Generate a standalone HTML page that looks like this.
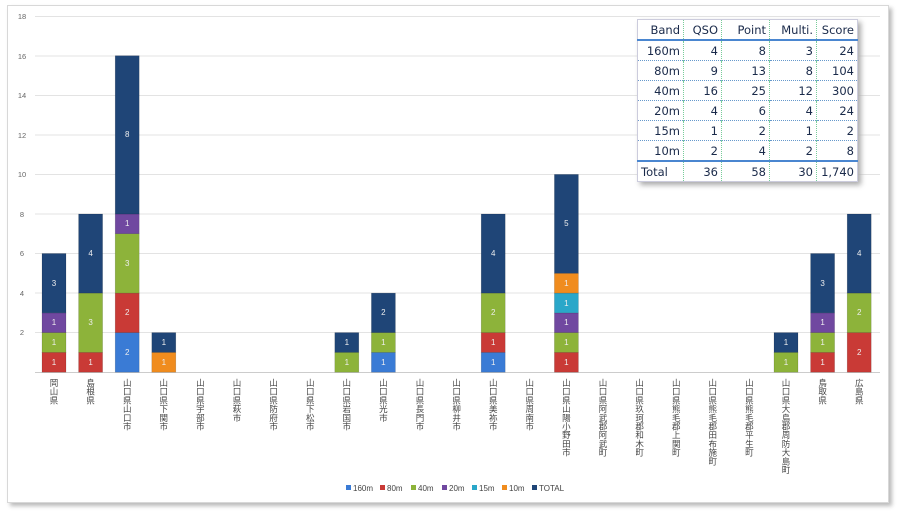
<!DOCTYPE html>
<html><head><meta charset="utf-8"><style>
body{margin:0;width:900px;height:514px;background:#fff;position:relative;overflow:hidden;font-family:"Liberation Sans","Noto Sans CJK JP",sans-serif}
.frame{position:absolute;left:7px;top:5px;width:880px;height:496px;border:1px solid #d8d8d8;box-shadow:3px 3px 4px #bbb;background:#fff}
table{position:absolute;left:637px;top:19px;width:220px;table-layout:fixed;border-collapse:collapse;background:#fff;box-shadow:3px 3px 5px #aaa;font-family:"DejaVu Sans",sans-serif;font-size:11.5px;color:#1a2a4a;border:1px solid #ccd}
td{height:19px;padding:0 3px;text-align:right;border-left:1px dotted #7c9;border-top:1px dotted #69c;overflow:hidden;white-space:nowrap}
td:first-child{border-left:none}
tr.h td{border-top:none;border-bottom:2px solid #4a86d0}
tr.t td{border-top:2px solid #4a86d0;text-align:right}
</style></head><body>
<div class="frame"></div>
<svg style="position:absolute;left:0;top:0" width="900" height="514">
<g stroke="#e3e3e3" stroke-width="1">
<line x1="35" x2="880" y1="16.5" y2="16.5"/><line x1="35" x2="880" y1="56" y2="56"/><line x1="35" x2="880" y1="95.5" y2="95.5"/><line x1="35" x2="880" y1="135" y2="135"/><line x1="35" x2="880" y1="174.5" y2="174.5"/><line x1="35" x2="880" y1="214" y2="214"/><line x1="35" x2="880" y1="253.5" y2="253.5"/><line x1="35" x2="880" y1="293" y2="293"/><line x1="35" x2="880" y1="332.5" y2="332.5"/><line x1="35" x2="880" y1="372.5" y2="372.5" stroke="#ccc"/>
</g>
<g font-size="7.5" fill="#666" text-anchor="middle">
<text x="22" y="19">18</text><text x="22" y="59">16</text><text x="22" y="98">14</text><text x="22" y="138">12</text><text x="22" y="177">10</text><text x="22" y="217">8</text><text x="22" y="256">6</text><text x="22" y="296">4</text><text x="22" y="335">2</text>
</g>
<g stroke-width=".6" stroke="#0003">
<rect x="42" y="352.4" width="24" height="19.8" fill="#c93a36"/>
<rect x="42" y="332.6" width="24" height="19.8" fill="#8db33a"/>
<rect x="42" y="312.9" width="24" height="19.7" fill="#7048a0"/>
<rect x="42" y="253.5" width="24" height="59.4" fill="#1f4577"/>
<rect x="78.6" y="352.4" width="24" height="19.8" fill="#c93a36"/>
<rect x="78.6" y="293.1" width="24" height="59.3" fill="#8db33a"/>
<rect x="78.6" y="214" width="24" height="79.1" fill="#1f4577"/>
<rect x="115.2" y="332.6" width="24" height="39.6" fill="#3a7bd5"/>
<rect x="115.2" y="293.1" width="24" height="39.5" fill="#c93a36"/>
<rect x="115.2" y="233.7" width="24" height="59.4" fill="#8db33a"/>
<rect x="115.2" y="214" width="24" height="19.7" fill="#7048a0"/>
<rect x="115.2" y="55.7" width="24" height="158.3" fill="#1f4577"/>
<rect x="151.8" y="352.4" width="24" height="19.8" fill="#f08c1e"/>
<rect x="151.8" y="332.6" width="24" height="19.8" fill="#1f4577"/>
<rect x="334.8" y="352.4" width="24" height="19.8" fill="#8db33a"/>
<rect x="334.8" y="332.6" width="24" height="19.8" fill="#1f4577"/>
<rect x="371.4" y="352.4" width="24" height="19.8" fill="#3a7bd5"/>
<rect x="371.4" y="332.6" width="24" height="19.8" fill="#8db33a"/>
<rect x="371.4" y="293.1" width="24" height="39.5" fill="#1f4577"/>
<rect x="481.2" y="352.4" width="24" height="19.8" fill="#3a7bd5"/>
<rect x="481.2" y="332.6" width="24" height="19.8" fill="#c93a36"/>
<rect x="481.2" y="293.1" width="24" height="39.5" fill="#8db33a"/>
<rect x="481.2" y="214" width="24" height="79.1" fill="#1f4577"/>
<rect x="554.4" y="352.4" width="24" height="19.8" fill="#c93a36"/>
<rect x="554.4" y="332.6" width="24" height="19.8" fill="#8db33a"/>
<rect x="554.4" y="312.9" width="24" height="19.7" fill="#7048a0"/>
<rect x="554.4" y="293.1" width="24" height="19.8" fill="#2aa7c9"/>
<rect x="554.4" y="273.3" width="24" height="19.8" fill="#f08c1e"/>
<rect x="554.4" y="174.4" width="24" height="98.9" fill="#1f4577"/>
<rect x="774" y="352.4" width="24" height="19.8" fill="#8db33a"/>
<rect x="774" y="332.6" width="24" height="19.8" fill="#1f4577"/>
<rect x="810.6" y="352.4" width="24" height="19.8" fill="#c93a36"/>
<rect x="810.6" y="332.6" width="24" height="19.8" fill="#8db33a"/>
<rect x="810.6" y="312.9" width="24" height="19.7" fill="#7048a0"/>
<rect x="810.6" y="253.5" width="24" height="59.4" fill="#1f4577"/>
<rect x="847.2" y="332.6" width="24" height="39.6" fill="#c93a36"/>
<rect x="847.2" y="293.1" width="24" height="39.5" fill="#8db33a"/>
<rect x="847.2" y="214" width="24" height="79.1" fill="#1f4577"/>
</g>
<g font-size="8" fill="#eee" text-anchor="middle">
<text x="54" y="365">1</text><text x="54" y="345">1</text><text x="54" y="325">1</text><text x="54" y="286">3</text>
<text x="90.6" y="365">1</text><text x="90.6" y="325">3</text><text x="90.6" y="256">4</text>
<text x="127.2" y="355">2</text><text x="127.2" y="315">2</text><text x="127.2" y="266">3</text><text x="127.2" y="226">1</text><text x="127.2" y="137">8</text>
<text x="163.8" y="365">1</text><text x="163.8" y="345">1</text>
<text x="346.8" y="365">1</text><text x="346.8" y="345">1</text>
<text x="383.4" y="365">1</text><text x="383.4" y="345">1</text><text x="383.4" y="315">2</text>
<text x="493.2" y="365">1</text><text x="493.2" y="345">1</text><text x="493.2" y="315">2</text><text x="493.2" y="256">4</text>
<text x="566.4" y="365">1</text><text x="566.4" y="345">1</text><text x="566.4" y="325">1</text><text x="566.4" y="306">1</text><text x="566.4" y="286">1</text><text x="566.4" y="226">5</text>
<text x="786" y="365">1</text><text x="786" y="345">1</text>
<text x="822.6" y="365">1</text><text x="822.6" y="345">1</text><text x="822.6" y="325">1</text><text x="822.6" y="286">3</text>
<text x="859.2" y="355">2</text><text x="859.2" y="315">2</text><text x="859.2" y="256">4</text>
</g>
<g font-size="8.5" fill="#444" text-anchor="middle" font-family="Noto Sans CJK JP, sans-serif">
<text x="54 54 54" y="386 394.7 403.4">岡山県</text>
<text x="90.6 90.6 90.6" y="386 394.7 403.4">島根県</text>
<text x="127.2 127.2 127.2 127.2 127.2 127.2" y="386 394.7 403.4 412.1 420.8 429.5">山口県山口市</text>
<text x="163.8 163.8 163.8 163.8 163.8 163.8" y="386 394.7 403.4 412.1 420.8 429.5">山口県下関市</text>
<text x="200.4 200.4 200.4 200.4 200.4 200.4" y="386 394.7 403.4 412.1 420.8 429.5">山口県宇部市</text>
<text x="237 237 237 237 237" y="386 394.7 403.4 412.1 420.8">山口県萩市</text>
<text x="273.6 273.6 273.6 273.6 273.6 273.6" y="386 394.7 403.4 412.1 420.8 429.5">山口県防府市</text>
<text x="310.2 310.2 310.2 310.2 310.2 310.2" y="386 394.7 403.4 412.1 420.8 429.5">山口県下松市</text>
<text x="346.8 346.8 346.8 346.8 346.8 346.8" y="386 394.7 403.4 412.1 420.8 429.5">山口県岩国市</text>
<text x="383.4 383.4 383.4 383.4 383.4" y="386 394.7 403.4 412.1 420.8">山口県光市</text>
<text x="420 420 420 420 420 420" y="386 394.7 403.4 412.1 420.8 429.5">山口県長門市</text>
<text x="456.6 456.6 456.6 456.6 456.6 456.6" y="386 394.7 403.4 412.1 420.8 429.5">山口県柳井市</text>
<text x="493.2 493.2 493.2 493.2 493.2 493.2" y="386 394.7 403.4 412.1 420.8 429.5">山口県美祢市</text>
<text x="529.8 529.8 529.8 529.8 529.8 529.8" y="386 394.7 403.4 412.1 420.8 429.5">山口県周南市</text>
<text x="566.4 566.4 566.4 566.4 566.4 566.4 566.4 566.4 566.4" y="386 394.7 403.4 412.1 420.8 429.5 438.2 446.9 455.6">山口県山陽小野田市</text>
<text x="603 603 603 603 603 603 603 603 603" y="386 394.7 403.4 412.1 420.8 429.5 438.2 446.9 455.6">山口県阿武郡阿武町</text>
<text x="639.6 639.6 639.6 639.6 639.6 639.6 639.6 639.6 639.6" y="386 394.7 403.4 412.1 420.8 429.5 438.2 446.9 455.6">山口県玖珂郡和木町</text>
<text x="676.2 676.2 676.2 676.2 676.2 676.2 676.2 676.2 676.2" y="386 394.7 403.4 412.1 420.8 429.5 438.2 446.9 455.6">山口県熊毛郡上関町</text>
<text x="712.8 712.8 712.8 712.8 712.8 712.8 712.8 712.8 712.8 712.8" y="386 394.7 403.4 412.1 420.8 429.5 438.2 446.9 455.6 464.3">山口県熊毛郡田布施町</text>
<text x="749.4 749.4 749.4 749.4 749.4 749.4 749.4 749.4 749.4" y="386 394.7 403.4 412.1 420.8 429.5 438.2 446.9 455.6">山口県熊毛郡平生町</text>
<text x="786 786 786 786 786 786 786 786 786 786 786" y="386 394.7 403.4 412.1 420.8 429.5 438.2 446.9 455.6 464.3 473">山口県大島郡周防大島町</text>
<text x="822.6 822.6 822.6" y="386 394.7 403.4">鳥取県</text>
<text x="859.2 859.2 859.2" y="386 394.7 403.4">広島県</text>
</g>
<g font-size="8" fill="#444">
<rect x="346" y="485" width="5" height="5" fill="#3a7bd5"/><text x="353" y="491">160m</text>
<rect x="380" y="485" width="5" height="5" fill="#c93a36"/><text x="387" y="491">80m</text>
<rect x="411" y="485" width="5" height="5" fill="#8db33a"/><text x="418" y="491">40m</text>
<rect x="442" y="485" width="5" height="5" fill="#7048a0"/><text x="449" y="491">20m</text>
<rect x="472" y="485" width="5" height="5" fill="#2aa7c9"/><text x="479" y="491">15m</text>
<rect x="502" y="485" width="5" height="5" fill="#f08c1e"/><text x="509" y="491">10m</text>
<rect x="532" y="485" width="5" height="5" fill="#1f4577"/><text x="539" y="491">TOTAL</text>
</g>
</svg>
<table>
<colgroup><col style="width:46px"><col style="width:38px"><col style="width:48px"><col style="width:47px"><col style="width:41px"></colgroup>
<tr class="h"><td>Band</td><td>QSO</td><td>Point</td><td>Multi.</td><td>Score</td></tr>
<tr><td>160m</td><td>4</td><td>8</td><td>3</td><td>24</td></tr>
<tr><td>80m</td><td>9</td><td>13</td><td>8</td><td>104</td></tr>
<tr><td>40m</td><td>16</td><td>25</td><td>12</td><td>300</td></tr>
<tr><td>20m</td><td>4</td><td>6</td><td>4</td><td>24</td></tr>
<tr><td>15m</td><td>1</td><td>2</td><td>1</td><td>2</td></tr>
<tr><td>10m</td><td>2</td><td>4</td><td>2</td><td>8</td></tr>
<tr class="t"><td style="text-align:left">Total</td><td>36</td><td>58</td><td>30</td><td>1,740</td></tr>
</table>
</body></html>
